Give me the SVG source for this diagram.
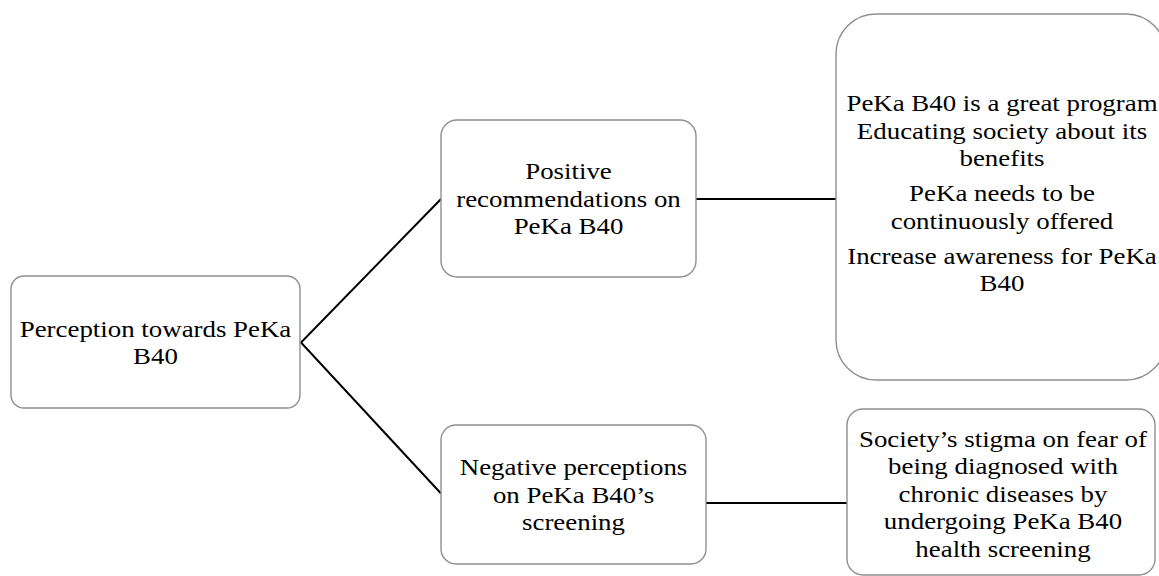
<svg xmlns="http://www.w3.org/2000/svg" width="1159" height="576" viewBox="0 0 1159 576">
<style>
.box{fill:#ffffff;stroke:#8f8f8f;stroke-width:1.4}
.lbl{font-family:'Liberation Serif','Times New Roman',Times,serif;font-size:24px;fill:#000;text-anchor:middle}
.conn{stroke:#000;stroke-width:2;fill:none}
</style>
<rect width="1159" height="576" fill="#ffffff"/>
<g id="connectors">
<polyline class="conn" points="441,199 301,342.5 441,493.5"/>
<line class="conn" x1="696" y1="199" x2="836" y2="199"/>
<line class="conn" x1="706" y1="503" x2="847" y2="503"/>
</g>
<g id="node-perception">
<rect class="box" x="11" y="276" width="289" height="132" rx="13"/>
<g transform="translate(155.5 0) scale(1.12 1)" font-family="Liberation Serif">
<text class="lbl" x="0" y="336.7">Perception towards PeKa</text>
<text class="lbl" x="0" y="364.3">B40</text>
</g>
</g>
<g id="node-positive">
<rect class="box" x="441" y="120" width="255" height="157" rx="16"/>
<g transform="translate(568.5 0) scale(1.12 1)">
<text class="lbl" x="0" y="179.3">Positive</text>
<text class="lbl" x="0" y="206.9">recommendations on</text>
<text class="lbl" x="0" y="234.5">PeKa B40</text>
</g>
</g>
<g id="node-negative">
<rect class="box" x="441" y="425" width="265" height="139" rx="15"/>
<g transform="translate(573.5 0) scale(1.12 1)">
<text class="lbl" x="0" y="475.3">Negative perceptions</text>
<text class="lbl" x="0" y="502.9">on PeKa B40’s</text>
<text class="lbl" x="0" y="530.5">screening</text>
</g>
</g>
<g id="node-positive-details">
<rect class="box" x="836" y="14" width="330" height="366" rx="40"/>
<g transform="translate(1002 0) scale(1.12 1)">
<text class="lbl" x="0" y="111">PeKa B40 is a great program</text>
<text class="lbl" x="0" y="139">Educating society about its</text>
<text class="lbl" x="0" y="166">benefits</text>
<text class="lbl" x="0" y="201">PeKa needs to be</text>
<text class="lbl" x="0" y="228.6">continuously offered</text>
<text class="lbl" x="0" y="264">Increase awareness for PeKa</text>
<text class="lbl" x="0" y="291">B40</text>
</g>
</g>
<g id="node-negative-details">
<rect class="box" x="847" y="409" width="308" height="166" rx="16"/>
<g transform="translate(1003 0) scale(1.12 1)">
<text class="lbl" x="0" y="446.7">Society’s stigma on fear of</text>
<text class="lbl" x="0" y="474.3">being diagnosed with</text>
<text class="lbl" x="0" y="501.9">chronic diseases by</text>
<text class="lbl" x="0" y="529.5">undergoing PeKa B40</text>
<text class="lbl" x="0" y="557.1">health screening</text>
</g>
</g>
</svg>
